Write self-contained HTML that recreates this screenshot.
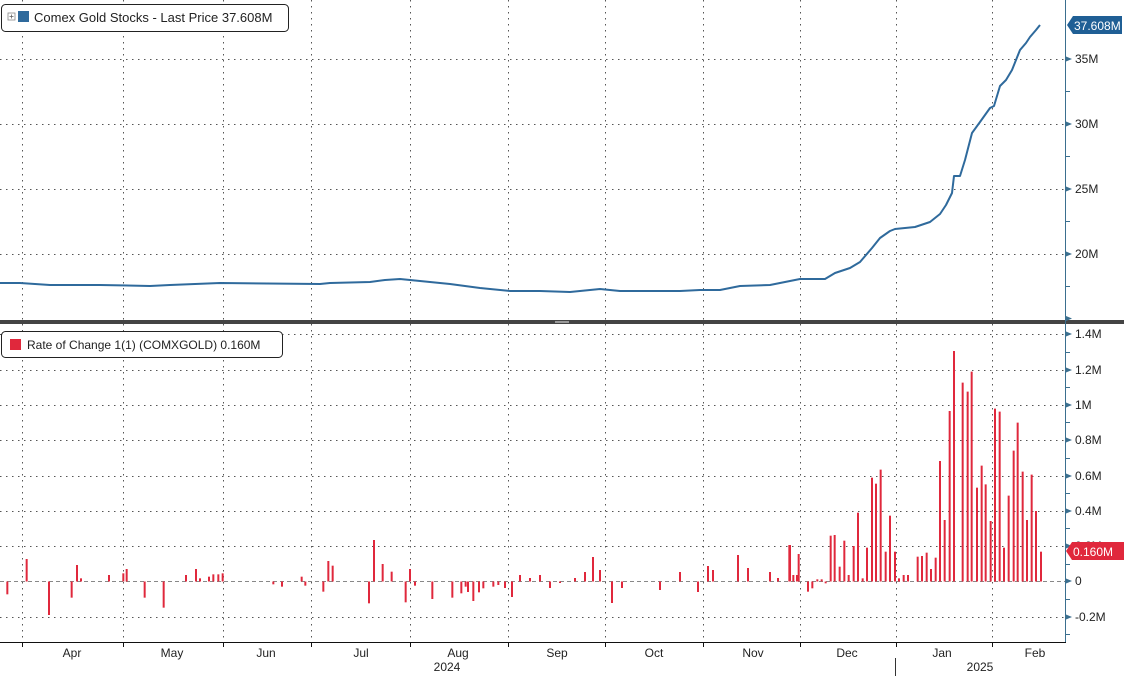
<!DOCTYPE html>
<html><head><meta charset="utf-8"><style>
html,body{margin:0;padding:0;background:#fff;}
svg{display:block;font-family:"Liberation Sans",sans-serif;}
</style></head><body>
<svg id="s" width="1124" height="676" viewBox="0 0 1124 676" xmlns="http://www.w3.org/2000/svg">
<g id="grid" stroke="#555" stroke-width="1" stroke-dasharray="1.5,4.5" fill="none">
</g>
<g id="bars" stroke="#e0283c" stroke-width="2"></g>
<polyline id="ln" fill="none" stroke="#2f6a9c" stroke-width="2" stroke-linejoin="round"/>
<!-- separator -->
<rect x="0" y="320" width="1124" height="4" fill="#444"/>
<rect x="555" y="321" width="14" height="2" fill="#999"/>
<!-- axes -->
<line x1="1065.5" y1="0" x2="1065.5" y2="642" stroke="#3b6f8f" stroke-width="1"/>
<line x1="0" y1="642.5" x2="1066" y2="642.5" stroke="#111" stroke-width="1"/>
<line x1="895.5" y1="658" x2="895.5" y2="676" stroke="#333" stroke-width="1"/>
<g id="ticks" fill="#3b6f8f"></g>
<g id="labs" font-size="12" fill="#222"></g>
<!-- legends -->
<rect x="1.5" y="4.5" width="287" height="27" rx="4" fill="#fff" stroke="#222"/>
<rect x="8" y="13" width="7" height="7" fill="none" stroke="#888" stroke-width="0.8"/>
<line x1="9.5" y1="16.5" x2="13.5" y2="16.5" stroke="#666" stroke-width="0.8"/>
<line x1="11.5" y1="14.5" x2="11.5" y2="18.5" stroke="#666" stroke-width="0.8"/>
<rect x="18" y="11" width="11" height="11" fill="#2f6a9c"/>
<text x="34" y="22" font-size="13" fill="#222">Comex Gold Stocks - Last Price 37.608M</text>
<rect x="1.5" y="331.5" width="281" height="26" rx="4" fill="#fff" stroke="#222"/>
<rect x="10" y="339" width="11" height="11" fill="#e0283c"/>
<text x="27" y="349" font-size="12" fill="#222">Rate of Change 1(1) (COMXGOLD) 0.160M</text>
<!-- value tags -->
<path d="M1067,25 L1073,16 L1122,16 L1122,34 L1073,34 Z" fill="#1f5f95"/>
<text x="1074" y="30" font-size="12" fill="#fff">37.608M</text>
<path d="M1066,551 L1072,542 L1124,542 L1124,560 L1072,560 Z" fill="#e0283c"/>
<text x="1073" y="556" font-size="12" fill="#fff">0.160M</text>
</svg>
<script>
const NS="http://www.w3.org/2000/svg";
function el(p,t,a,txt){const e=document.createElementNS(NS,t);for(const k in a)e.setAttribute(k,a[k]);if(txt!=null)e.textContent=txt;document.getElementById(p).appendChild(e);return e;}
const vx=[22,123,223,311,410,508,605,703,800,896,992];
vx.forEach(x=>{el('grid','line',{x1:x+.5,y1:0,x2:x+.5,y2:320});el('grid','line',{x1:x+.5,y1:324,x2:x+.5,y2:642});});
[59,124,189,254].forEach(y=>el('grid','line',{x1:0,y1:y+.5,x2:1065,y2:y+.5}));
const by=[334,370,405,440,476,511,546,617];
by.forEach(y=>el('grid','line',{x1:0,y1:y+.5,x2:1065,y2:y+.5}));
el('grid','line',{x1:0,y1:581.5,x2:1065,y2:581.5,'stroke-dasharray':'4,3',stroke:'#888'});
vx.forEach(x=>el('grid','line',{x1:x+.5,y1:642,x2:x+.5,y2:647,'stroke-dasharray':'none',stroke:'#111'}));
// top ticks/labels
[[59,'35M'],[124,'30M'],[189,'25M'],[254,'20M']].forEach(([y,t])=>{el('ticks','path',{d:`M1066,${y-2.5} L1072,${y} L1066,${y+2.5}Z`});el('labs','text',{x:1075,y:y+4},t);});
[91,156,221,286].forEach(y=>el('ticks','rect',{x:1066,y:y,width:4,height:1}));
el('ticks','path',{d:'M1066,316 L1072,318.5 L1066,321Z'});
[[334,'1.4M'],[370,'1.2M'],[405,'1M'],[440,'0.8M'],[476,'0.6M'],[511,'0.4M'],[546,'0.2M'],[581,'0'],[617,'-0.2M']].forEach(([y,t])=>{el('ticks','path',{d:`M1066,${y-2.5} L1072,${y} L1066,${y+2.5}Z`});el('labs','text',{x:1075,y:y+4},t);});
[352,387,422,458,493,528,564,599,634].forEach(y=>el('ticks','rect',{x:1066,y:y,width:4,height:1}));
[['Apr',72],['May',172],['Jun',266],['Jul',361],['Aug',458],['Sep',557],['Oct',654],['Nov',753],['Dec',847],['Jan',942],['Feb',1035]].forEach(([t,x])=>el('labs','text',{x:x,y:657,'text-anchor':'middle'},t));
el('labs','text',{x:447,y:671,'text-anchor':'middle'},'2024');
el('labs','text',{x:980,y:671,'text-anchor':'middle'},'2025');
// line
const pts=[[0,283],[20,283],[50,285],[100,285],[150,286],[170,285],[220,283],[320,284],[330,283],[370,282],[385,280],[400,279],[420,281],[450,284],[480,288],[510,291],[540,291],[570,292],[600,289],[620,291],[680,291],[700,290],[720,290],[740,286],[770,285],[790,281],[800,279],[825,279],[835,273],[850,268],[860,262],[872,248],[880,238],[890,231],[895,229],[915,227],[930,222],[940,214],[946,205],[952,193],[954,176],[960,176],[965,160],[972,133],[980,122],[990,108],[994,106],[1000,86],[1006,80],[1012,70],[1016,60],[1020,50],[1026,43],[1030,37],[1036,30],[1040,25]];
document.getElementById('ln').setAttribute('points',pts.map(p=>p.join(',')).join(' '));
// bars [x, topY]
const z=581.5;
const left=[[22,163],[80,57],[147,225],[215,173],[231,75],[243,115],[327,105],[370,100],[380,87],[434,173],[491,203],[558,105],[588,87],[600,115],[627,110],[640,103],[655,103],[668,100],[820,133],[846,140],[905,110],[916,137],[970,155],[985,63],[998,77],[1107,190],[1122,0],[1148,72],[1175,95],[1217,187],[1230,87],[1245,137],[1297,177],[1357,173],[1384,160],[1397,140],[1420,183],[1437,157],[1450,145],[1480,140],[1495,135]];
const bars=left.map(([px,py])=>[px/3,540+py/3]);
const mid=[[512,597],[520,575],[530,578],[540,575],[550,588],[560,583],[575,578],[585,572],[593,557],[600,570],[612,603],[622,588],[660,590],[680,572],[698,592],[708,566],[713,570],[738,555],[748,568],[770,572],[778,578],[790,545],[797,575],[505,588],[468,592]];
mid.forEach(b=>bars.push(b));
const right=[[28,645],[40,735],[56,672],[84,785],[97,775],[112,748],[125,748],[137,760],[152,617],[164,615],[179,710],[193,632],[206,735],[221,648],[234,548],[248,745],[261,653],[276,443],[288,461],[302,419],[317,665],[330,557],[345,665],[357,745],[371,735],[384,735],[413,680],[426,678],[440,668],[453,717],[467,683],[480,393],[494,570],[509,243],[522,63],[548,158],[563,185],[575,125],[591,473],[605,407],[617,463],[632,573],[645,236],[659,245],[672,653],[686,497],[701,362],[713,278],[728,425],[741,570],[755,434],[768,543],[783,665]];
right.forEach(([px,py])=>bars.push([780+px/3,330+py/3]));
bars.forEach(([x,y])=>{if(Math.abs(y-z)<0.5)y=z-1;el('bars','line',{x1:x,y1:z,x2:x,y2:y});});
</script>
</body></html>
